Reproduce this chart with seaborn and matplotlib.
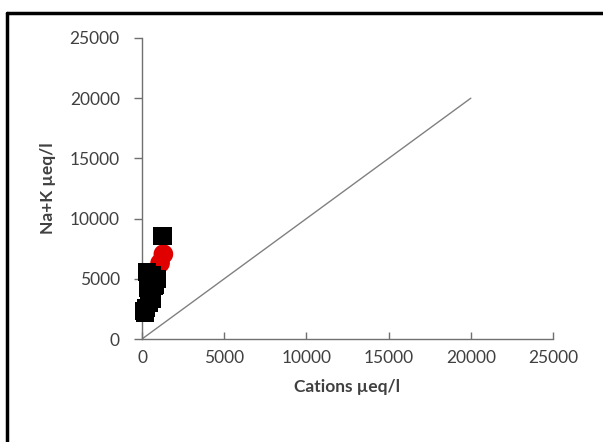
import matplotlib
matplotlib.use("Agg")
import matplotlib.pyplot as plt
import seaborn as sns
import pandas as pd
from matplotlib.lines import Line2D

# Data
square_cations = [100, 250, 200, 400, 600, 350, 500, 700, 300, 800, 600, 900, 1250]
square_nak = [2300, 2600, 2200, 3000, 3300, 4200, 4800, 4400, 5600, 4500, 5300, 5000, 8550]
circle_cations = [1300, 1100]
circle_nak = [7050, 6300]
line_x = [0, 20000]
line_y = [0, 20000]
ticks = [0, 5000, 10000, 15000, 20000, 25000]

sns.set_theme(style="white")
plt.rcParams["font.family"] = ["Lato", "DejaVu Sans"]

fig = plt.figure(figsize=(6.03, 4.42), dpi=100)
ax = fig.add_axes([142/603, 1-339/442, (553-142)/603, (339-38)/442])

sns.lineplot(x=line_x, y=line_y, ax=ax, color="#808080", linewidth=1.0)

df_c = pd.DataFrame({"Cations": circle_cations, "NaK": circle_nak})
df_s = pd.DataFrame({"Cations": square_cations, "NaK": square_nak})
sns.scatterplot(data=df_c, x="Cations", y="NaK", ax=ax, marker="o", color="#e00000",
                s=200, edgecolor="none", zorder=3, clip_on=False)
sns.scatterplot(data=df_s, x="Cations", y="NaK", ax=ax, marker="s", color="black",
                s=170, edgecolor="none", zorder=4, clip_on=False)

ax.set_xlim(0, 25000)
ax.set_ylim(0, 25000)
ax.set_xticks(ticks)
ax.set_yticks(ticks)
ax.set_xticklabels([str(t) for t in ticks])
ax.set_yticklabels([str(t) for t in ticks])
for side in ["top", "right"]:
    ax.spines[side].set_visible(False)
for side in ["left", "bottom"]:
    ax.spines[side].set_color("#707070")
    ax.spines[side].set_linewidth(1.0)
    ax.spines[side].set_zorder(2)

ax.tick_params(axis="y", direction="out", length=6, width=1, color="#707070",
               pad=10, labelsize=12.5, labelcolor="#404040", left=True)
ax.tick_params(axis="x", direction="in", length=5, width=1, color="#707070",
               pad=8, labelsize=12.5, labelcolor="#404040", bottom=True)

ax.set_xlabel("Cations µeq/l", fontsize=12.5, fontweight="bold", color="#404040", labelpad=9)
ax.set_ylabel("Na+K µeq/l", fontsize=12.5, fontweight="bold", color="#404040", labelpad=10)

# outer frame (left and top edges visible)
fig.add_artist(Line2D([7/603, 7/603], [0, 1-13/442], transform=fig.transFigure,
                      color="black", linewidth=2.5))
fig.add_artist(Line2D([7/603, 1], [1-13/442, 1-13/442], transform=fig.transFigure,
                      color="black", linewidth=2.5))

fig.savefig("out.png", dpi=100)
